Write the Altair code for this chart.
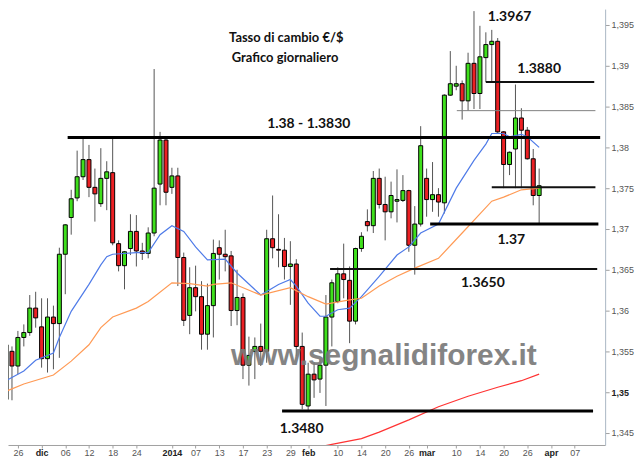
import altair as alt
import pandas as pd

# ---- candle data (trading-day index, OHLC) ----
idx = list(range(91))
open_ = [1.3491,1.3550,1.3532,1.3567,1.3573,1.3603,1.3580,1.3541,1.3592,1.3584,
         1.3669,1.3714,1.3738,1.3764,1.3785,1.3751,1.3731,1.3762,1.3769,1.3682,
         1.3655,1.3676,1.3697,1.3673,1.3670,1.3695,1.3755,1.3809,1.3751,1.3765,
         1.3665,1.3594,1.3628,1.3617,1.3571,1.3606,1.3677,1.3669,1.3667,1.3600,
         1.3616,1.3533,1.3550,1.3556,1.3550,1.3688,1.3675,1.3674,1.3654,1.3657,
         1.3556,1.3483,1.3522,1.3516,1.3533,1.3592,1.3611,1.3645,1.3637,1.3587,
         1.3676,1.3709,1.3704,1.3762,1.3730,1.3721,1.3734,1.3735,1.3747,1.3680,
         1.3706,1.3762,1.3736,1.3742,1.3732,1.3864,1.3875,1.3878,1.3857,1.3903,
         1.3866,1.3910,1.3926,1.3930,1.3819,1.3779,1.3798,1.3836,1.3821,1.3786,
         1.3741]
high = [1.3565,1.3556,1.3575,1.3583,1.3619,1.3623,1.3615,1.3615,1.3606,1.3677,
        1.3706,1.3748,1.3796,1.3811,1.3803,1.3774,1.3799,1.3783,1.3811,1.3686,
        1.3673,1.3718,1.3717,1.3683,1.3702,1.3896,1.3819,1.3813,1.3775,1.3775,
        1.3671,1.3653,1.3655,1.3636,1.3633,1.3687,1.3686,1.3699,1.3673,1.3650,
        1.3621,1.3568,1.3567,1.3584,1.3699,1.3741,1.3718,1.3689,1.3685,1.3663,
        1.3573,1.3536,1.3536,1.3540,1.3619,1.3638,1.3653,1.3682,1.3654,1.3677,
        1.3696,1.3724,1.3771,1.3774,1.3764,1.3758,1.3773,1.3766,1.3748,1.3728,
        1.3826,1.3774,1.3782,1.3750,1.3865,1.3918,1.3900,1.3882,1.3916,1.3967,
        1.3949,1.3941,1.3944,1.3934,1.3820,1.3795,1.3877,1.3848,1.3825,1.3798,
        1.3774]
low = [1.3473,1.3490,1.3522,1.3556,1.3569,1.3579,1.3530,1.3524,1.3528,1.3542,
       1.3620,1.3693,1.3734,1.3760,1.3739,1.3709,1.3727,1.3723,1.3680,1.3648,
       1.3626,1.3668,1.3654,1.3662,1.3664,1.3691,1.3729,1.3729,1.3743,1.3630,
       1.3581,1.3571,1.3599,1.3552,1.3552,1.3567,1.3638,1.3648,1.3581,1.3582,
       1.3516,1.3508,1.3516,1.3532,1.3536,1.3664,1.3653,1.3638,1.3607,1.3544,
       1.3479,1.3477,1.3493,1.3499,1.3483,1.3556,1.3609,1.3615,1.3560,1.3583,
       1.3672,1.3697,1.3695,1.3725,1.3686,1.3713,1.3708,1.3733,1.3672,1.3644,
       1.3703,1.3715,1.3721,1.3715,1.3719,1.3863,1.3870,1.3834,1.3845,1.3847,
       1.3847,1.3880,1.3880,1.3817,1.3750,1.3766,1.3750,1.3750,1.3785,1.3729,
       1.3707]
close = [1.3558,1.3532,1.3567,1.3573,1.3603,1.3591,1.3541,1.3592,1.3584,1.3669,
         1.3705,1.3737,1.3764,1.3785,1.3751,1.3743,1.3762,1.3770,1.3683,1.3655,
         1.3672,1.3697,1.3673,1.3670,1.3695,1.3750,1.3809,1.3745,1.3765,1.3665,
         1.3588,1.3628,1.3617,1.3571,1.3606,1.3670,1.3669,1.3666,1.3600,1.3616,
         1.3533,1.3545,1.3556,1.3550,1.3688,1.3677,1.3674,1.3654,1.3657,1.3556,
         1.3485,1.3522,1.3515,1.3533,1.3592,1.3634,1.3645,1.3638,1.3587,1.3676,
         1.3691,1.3704,1.3762,1.3730,1.3721,1.3741,1.3736,1.3747,1.3680,1.3706,
         1.3802,1.3736,1.3742,1.3733,1.3864,1.3878,1.3878,1.3857,1.3903,1.3866,
         1.3911,1.3926,1.3930,1.3819,1.3779,1.3794,1.3836,1.3821,1.3786,1.3741,
         1.3753]

# ---- moving averages (read at selected trading days) ----
blue_i = [0,3,5,8,9,11,14,16,17,18,22,24,26,28,30,32,34,37,39,43,46,48,49,51,53,54,
          56,58,60,63,66,68,70,73,76,79,81,82,84,85,87,88,90]
blue_v = [1.3514,1.3526,1.3539,1.3548,1.3567,1.3599,1.3632,1.3656,1.3666,1.3669,1.3671,
          1.3671,1.3693,1.3704,1.3697,1.3678,1.3662,1.3663,1.3646,1.3619,1.3632,1.3638,
          1.3630,1.3609,1.3593,1.3593,1.3601,1.3603,1.3617,1.3642,1.3668,1.3678,1.3695,
          1.3706,1.3750,1.3784,1.3804,1.3817,1.3817,1.3813,1.3816,1.3813,1.3800]
orange_i = [0,3,8,11,14,16,18,22,24,28,31,34,35,38,43,48,51,54,58,60,63,66,69,73,77,
            82,84,87,90]
orange_v = [1.3501,1.3510,1.3521,1.3538,1.3558,1.3579,1.3592,1.3603,1.3611,1.3634,1.3633,
            1.3630,1.3632,1.3634,1.3619,1.3628,1.3617,1.3608,1.3613,1.3615,1.3630,1.3642,
            1.3652,1.3664,1.3695,1.3734,1.3739,1.3748,1.3750]
red_i = [53,55,60,63,68,73,78,83,87,90]
red_v = [1.3433,1.3436,1.3443,1.3451,1.3466,1.3482,1.3495,1.3506,1.3514,1.3522]

# ---- horizontal levels ----
lvl_price = [1.3812, 1.3880, 1.3845, 1.3751, 1.3706, 1.3651, 1.3477]
lvl_start = [10.4, 81.0, 76.1, 82.0, 71.6, 54.7, 46.6]
lvl_end = [100.3, 99.3, 99.5, 99.5, 100.0, 99.8, 99.1]
lvl_kind = ["thick", "thin", "grey", "thin", "thick", "thin", "thick"]

# ---- annotations ----
ann_text = ["Tasso di cambio €/$", "Grafico giornaliero", "1.38 - 1.3830", "1.3967",
            "1.3880", "1.37", "1.3650", "1.3480"]
ann_i = [47.3, 47.1, 51.1, 85.0, 90.0, 85.3, 80.5, 49.9]
ann_v = [1.3934, 1.3909, 1.3829, 1.3960, 1.3896, 1.3687, 1.3634, 1.3455]
ann_size = [13, 13, 14, 14, 14, 14, 14, 14]
wm_text = ["www.segnalidiforex.it"]
wm_i = [63.8]
wm_v = [1.3544]

# ---- axes ----
x_tick_idx = [2, 6, 10, 14, 18, 22, 28, 32, 36, 40, 44, 48, 51, 56, 60, 64, 68, 71,
              76, 80, 84, 88, 92, 96]
x_tick_lbl = ["26", "dic", "06", "12", "18", "24", "2014", "07", "13", "17", "23", "29",
              "feb", "10", "14", "20", "26", "mar", "10", "14", "20", "26", "apr", "07"]
bold_lbl = ["dic", "2014", "feb", "mar", "apr"]
y_ticks = [1.345, 1.35, 1.355, 1.36, 1.365, 1.37, 1.375, 1.38, 1.385, 1.39, 1.395]

candles = pd.DataFrame({"i": idx, "open": open_, "high": high, "low": low, "close": close})
candles["dir"] = ["up" if c >= o else "down" for o, c in zip(open_, close)]

ma = pd.concat([
    pd.DataFrame({"i": blue_i, "v": blue_v, "s": "blue"}),
    pd.DataFrame({"i": orange_i, "v": orange_v, "s": "orange"}),
    pd.DataFrame({"i": red_i, "v": red_v, "s": "red"}),
])
levels = pd.DataFrame({"i": lvl_start, "b": lvl_end, "v": lvl_price, "k": lvl_kind})
ann = pd.DataFrame({"t": ann_text, "i": ann_i, "v": ann_v, "sz": ann_size})
wm = pd.DataFrame({"t": wm_text, "i": wm_i, "v": wm_v})

xs = alt.Scale(domain=[1.17, 100.3], nice=False, zero=False)
ys = alt.Scale(domain=[1.34352, 1.39695], nice=False, zero=False)

xlabel_expr = "[" + ",".join("'%s'" % s for s in x_tick_lbl) + "][indexof([" + \
    ",".join(str(v) for v in x_tick_idx) + "], datum.value)]"
bold_vals = [x_tick_idx[x_tick_lbl.index(b)] for b in bold_lbl]
xbold_expr = "indexof([" + ",".join(str(v) for v in bold_vals) + "], datum.value) >= 0 ? 'bold' : 'normal'"
xcol_expr = "indexof([" + ",".join(str(v) for v in bold_vals) + "], datum.value) >= 0 ? '#222' : '#555'"

x_axis = alt.Axis(values=x_tick_idx, labelExpr=xlabel_expr, title=None, grid=False,
                  domainColor="#a0a0a0", tickColor="#a0a0a0", tickSize=3, labelPadding=1,
                  labelFontSize=9, labelFont="Liberation Sans",
                  labelFontWeight={"expr": xbold_expr}, labelColor={"expr": xcol_expr},
                  labelOverlap=False, labelFlush=False)
y_axis = alt.Axis(orient="right", values=y_ticks, title=None, grid=False,
                  labelExpr="replace(format(datum.value, '.3~f'), '.', ',')",
                  domainColor="#a9b6c4", tickColor="#a0a0a0", tickSize=4, labelPadding=2,
                  labelFontSize=9, labelFont="Liberation Sans",
                  labelFontWeight={"expr": "abs(datum.value - 1.35) < 0.0001 ? 'bold' : 'normal'"},
                  labelColor={"expr": "abs(datum.value - 1.35) < 0.0001 ? '#222' : '#555'"},
                  labelOverlap=False, labelFlush=False)


def X(field):
    return alt.X(field, type="quantitative", scale=xs, axis=x_axis)


def Y(field):
    return alt.Y(field, type="quantitative", scale=ys, axis=y_axis)


base = alt.Chart(candles)
wicks = base.mark_rule(color="#555555", strokeWidth=1, clip=True).encode(
    x=X("i"), y=Y("low"), y2="high:Q",
)
bodies = base.mark_bar(size=4, stroke="black", strokeWidth=1, clip=True).encode(
    x=X("i"), y=Y("open"), y2="close:Q",
    fill=alt.Fill("dir:N", scale=alt.Scale(domain=["up", "down"], range=["#3fe01c", "#ec2024"]),
                  legend=None),
)
lines = alt.Chart(ma).mark_line(strokeWidth=1.2, clip=True).encode(
    x=X("i"), y=Y("v"),
    color=alt.Color("s:N", scale=alt.Scale(domain=["blue", "orange", "red"],
                                           range=["#4f7be8", "#ff9a55", "#ff3333"]), legend=None),
)
lvl = alt.Chart(levels).mark_rule(clip=True).encode(
    x=X("i"), x2="b:Q", y=Y("v"),
    strokeWidth=alt.StrokeWidth("k:N", scale=alt.Scale(domain=["thick", "thin", "grey"],
                                                       range=[3, 1, 1]), legend=None),
    color=alt.Color("k:N", scale=alt.Scale(domain=["thick", "thin", "grey"],
                                           range=["#000000", "#111111", "#808080"]), legend=None),
)
watermark = alt.Chart(wm).mark_text(font="Liberation Sans", fontWeight="bold", fontSize=30,
                                    color="#7a7a7a", opacity=0.92, baseline="middle",
                                    align="center").encode(
    x=X("i"), y=Y("v"), text="t:N",
)
labels = alt.Chart(ann).mark_text(font="Lato", fontWeight="bold", color="#111111",
                                  baseline="middle", align="center").encode(
    x=X("i"), y=Y("v"), text="t:N",
    size=alt.Size("sz:Q", scale=None, legend=None),
)

chart = alt.layer(wicks, bodies, lines, lvl, watermark, labels).resolve_scale(
    color="independent"
).properties(
    width=600, height=438, background="white",
    autosize=alt.AutoSizeParams(type="none"),
    padding={"left": 0, "top": 0, "right": 30, "bottom": 13},
).configure_view(stroke=None)

chart.save("out.html", embed_options={"renderer": "svg", "actions": False})
